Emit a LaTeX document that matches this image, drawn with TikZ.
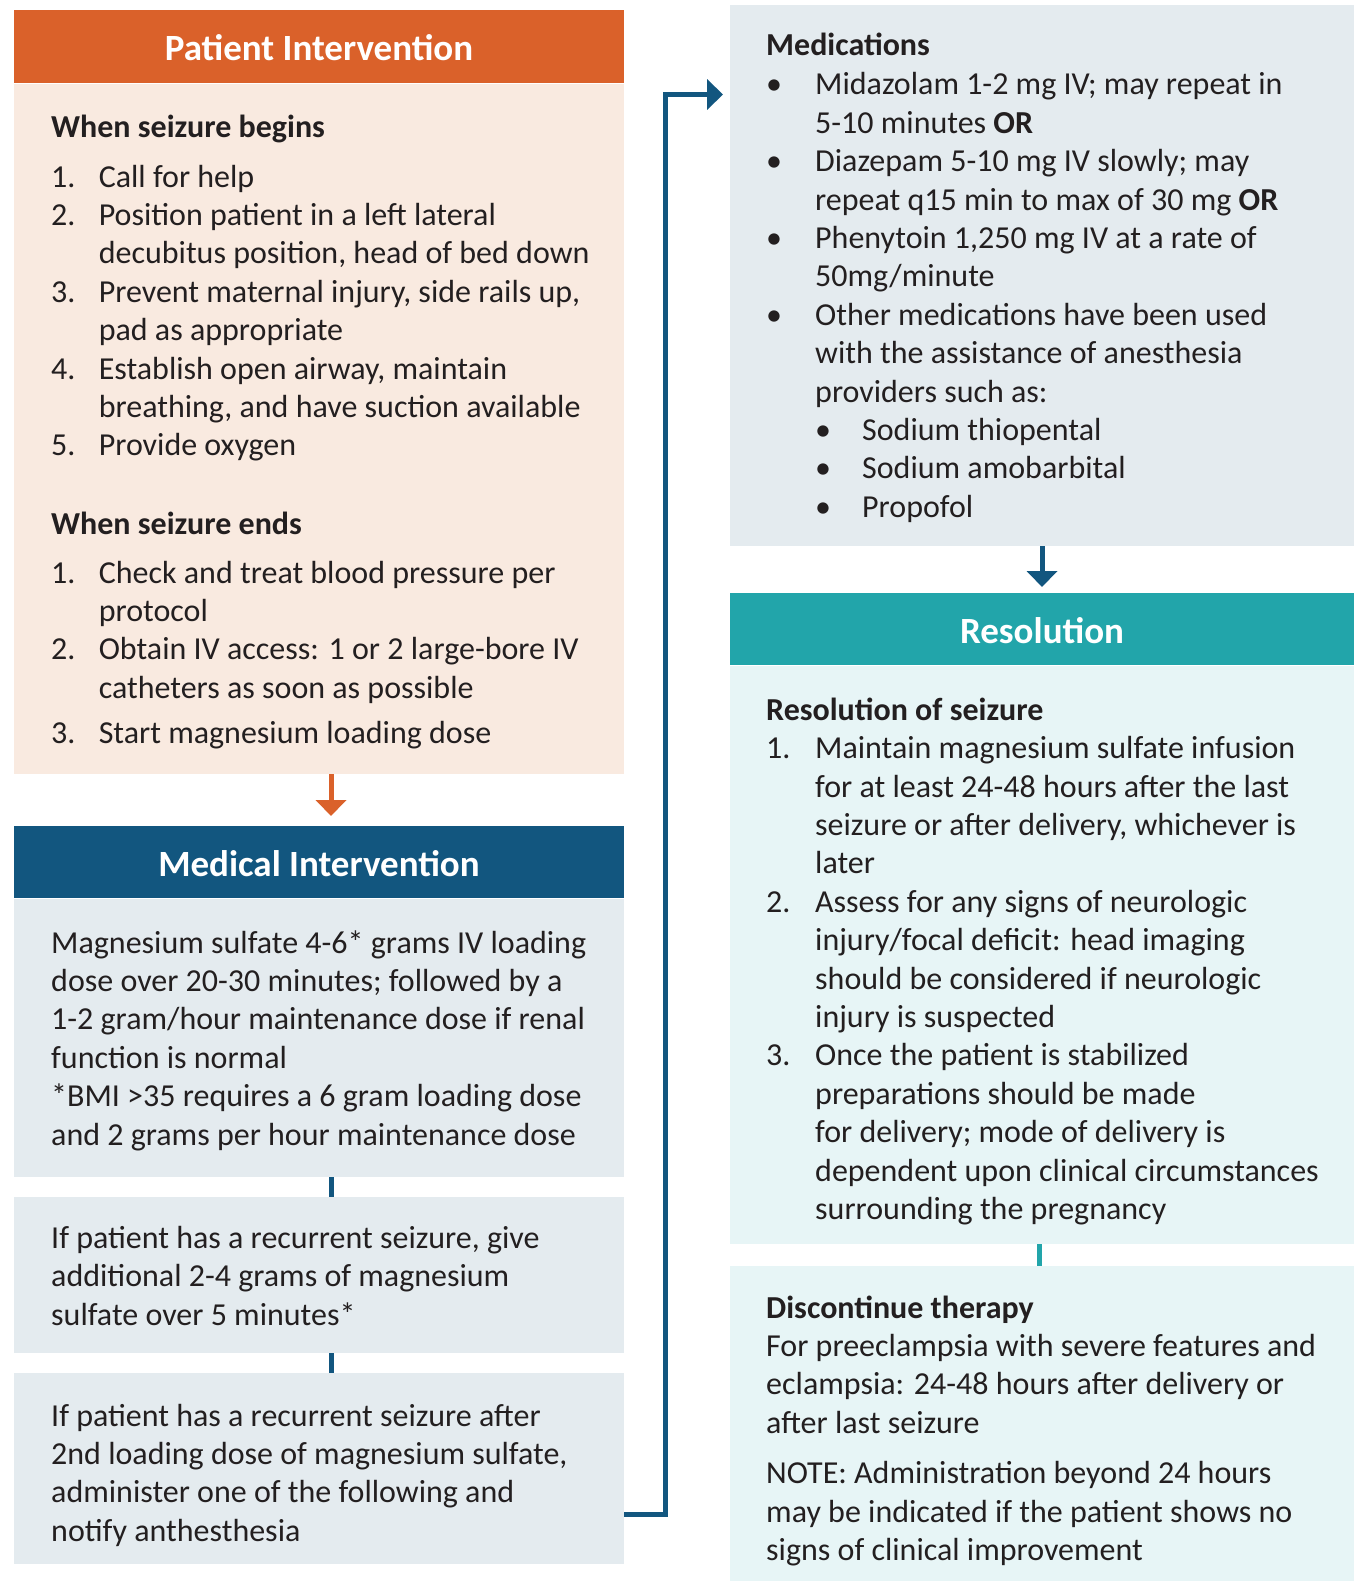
\documentclass[tikz,border=0pt]{standalone}
\usepackage{fontspec}
\setmainfont{Carlito}
\usepackage{tikz}
\usetikzlibrary{arrows.meta,calc}

\definecolor{orangehd}{HTML}{DA612A}
\definecolor{peach}{HTML}{F9EAE0}
\definecolor{navy}{HTML}{12567F}
\definecolor{mist}{HTML}{E4EBEF}
\definecolor{tealhd}{HTML}{22A5AA}
\definecolor{aqua}{HTML}{E7F5F6}
\definecolor{ink}{HTML}{231F20}

\begin{document}
\begin{tikzpicture}[x=1pt,y=-1pt]
		\tikzstyle{panel}=[anchor=north west,inner sep=0pt,outer sep=0pt]
		\tikzstyle{head}=[panel,minimum height=73pt,text height=28.5pt,text depth=0pt,text=white,font=\fontsize{37}{40}\selectfont\bfseries]
		\tikzstyle{txt}=[anchor=base west,inner sep=0pt,yshift=-2pt,text=ink,font=\fontsize{32}{38.4}\selectfont]
		\tikzstyle{ttl}=[txt,font=\fontsize{32}{38.4}\selectfont\bfseries]
		\tikzstyle{link}=[line width=5pt]
		\tikzstyle{flow}=[link,-{Triangle[width=30pt,length=16pt]}]

		\useasboundingbox (0,0) rectangle (1356,1581);

		\node[head,fill=orangehd,minimum width=610pt](ph) at (14,10){Patient Intervention};
		\node[panel,fill=peach,minimum width=610pt,minimum height=690pt](pb) at (14,84){};
		\node[head,fill=navy,minimum width=610pt,minimum height=72pt](mh) at (14,826){Medical Intervention};
		\node[panel,fill=mist,minimum width=610pt,minimum height=278pt](mb1) at (14,899){};
		\node[panel,fill=mist,minimum width=610pt,minimum height=156pt](mb2) at (14,1197){};
		\node[panel,fill=mist,minimum width=610pt,minimum height=191pt](mb3) at (14,1373){};

		\node[panel,fill=mist,minimum width=624pt,minimum height=541pt](meds) at (730,5){};
		\node[head,fill=tealhd,minimum width=624pt,minimum height=72pt](rh) at (730,593){Resolution};
		\node[panel,fill=aqua,minimum width=624pt,minimum height=578pt](rb) at (730,666){};
		\node[panel,fill=aqua,minimum width=624pt,minimum height=315pt](rb2) at (730,1266){};

		\node[ttl](begins) at (51,135.5){When seizure begins};
		\node[txt](beginlist) at (51,185){\begin{tabular}[t]{@{}p{47.6pt}@{}l@{}}
			1. & Call for help\\
			2. & Position patient in a left lateral\\
			   & decubitus position, head of bed down\\
			3. & Prevent maternal injury, side rails up,\\
			   & pad as appropriate\\
			4. & Establish open airway, maintain\\
			   & breathing, and have suction available\\
			5. & Provide oxygen
		\end{tabular}};
		\node[ttl](ends) at (51,532){When seizure ends};
		\node[txt](endlist) at (51,581){\begin{tabular}[t]{@{}p{47.6pt}@{}l@{}}
			1. & Check and treat blood pressure per\\
			   & protocol\\
			2. & Obtain IV access: 1 or 2 large-bore IV\\
			   & catheters as soon as possible\\[7pt]
			3. & Start magnesium loading dose
		\end{tabular}};

		\node[txt](loading) at (51,951){\begin{tabular}[t]{@{}l@{}}
			Magnesium sulfate 4-6* grams IV loading\\
			dose over 20-30 minutes; followed by a\\
			1-2 gram/hour maintenance dose if renal\\
			function is normal\\
			{*}BMI >35 requires a 6 gram loading dose\\
			and 2 grams per hour maintenance dose
		\end{tabular}};
		\node[txt](repeat) at (51,1246.5){\begin{tabular}[t]{@{}l@{}}
			If patient has a recurrent seizure, give\\
			additional 2-4 grams of magnesium\\
			sulfate over 5 minutes*
		\end{tabular}};
		\node[txt](second) at (51,1424){\begin{tabular}[t]{@{}l@{}}
			If patient has a recurrent seizure after\\
			2nd loading dose of magnesium sulfate,\\
			administer one of the following and\\
			notify anthesthesia
		\end{tabular}};

		\node[ttl](medtitle) at (766,54){Medications};
		\node[txt](medlist) at (766,93){\begin{tabular}[t]{@{}p{49pt}@{}l@{}}
			\textbullet & Midazolam 1-2 mg IV; may repeat in\\
			            & 5-10 minutes \textbf{OR}\\
			\textbullet & Diazepam 5-10 mg IV slowly; may\\
			            & repeat q15 min to max of 30 mg \textbf{OR}\\
			\textbullet & Phenytoin 1,250 mg IV at a rate of\\
			            & 50mg/minute\\
			\textbullet & Other medications have been used\\
			            & with the assistance of anesthesia\\
			            & providers such as:\\
			            & \makebox[47pt][l]{\textbullet}Sodium thiopental\\
			            & \makebox[47pt][l]{\textbullet}Sodium amobarbital\\
			            & \makebox[47pt][l]{\textbullet}Propofol
		\end{tabular}};

		\node[ttl](restitle) at (766,718.3){Resolution of seizure};
		\node[txt](reslist) at (766,756.6){\begin{tabular}[t]{@{}p{49pt}@{}l@{}}
			1. & Maintain magnesium sulfate infusion\\
			   & for at least 24-48 hours after the last\\
			   & seizure or after delivery, whichever is\\
			   & later\\
			2. & Assess for any signs of neurologic\\
			   & injury/focal deficit: head imaging\\
			   & should be considered if neurologic\\
			   & injury is suspected\\
			3. & Once the patient is stabilized\\
			   & preparations should be made\\
			   & for delivery; mode of delivery is\\
			   & dependent upon clinical circumstances\\
			   & surrounding the pregnancy
		\end{tabular}};

		\node[ttl](stoptitle) at (766,1316){Discontinue therapy};
		\node[txt](stoptext) at (766,1354.4){\begin{tabular}[t]{@{}l@{}}
			For preeclampsia with severe features and\\
			eclampsia: 24-48 hours after delivery or\\
			after last seizure\\[12pt]
			NOTE: Administration beyond 24 hours\\
			may be indicated if the patient shows no\\
			signs of clinical improvement
		\end{tabular}};

		\draw[flow,draw=orangehd,shorten >=10pt] ([xshift=12pt]pb.south) -- ([xshift=12pt]mh.north);
		\draw[link,draw=navy] ([xshift=12pt]mb1.south) -- ([xshift=12pt]mb2.north);
		\draw[link,draw=navy] ([xshift=12pt]mb2.south) -- ([xshift=12pt]mb3.north);
		\draw[flow,draw=navy,shorten >=7pt] ($(mb3.south east)+(0,-49.5)$) -- ++(41.5,0) |- ($(meds.north west)+(0,89.5)$);
		\draw[flow,draw=navy,shorten >=6pt] (meds.south) -- (rh.north);
		\draw[link,draw=tealhd] ([xshift=-3pt]rb.south) -- ([xshift=-3pt]rb2.north);
	\end{tikzpicture}
\end{document}
